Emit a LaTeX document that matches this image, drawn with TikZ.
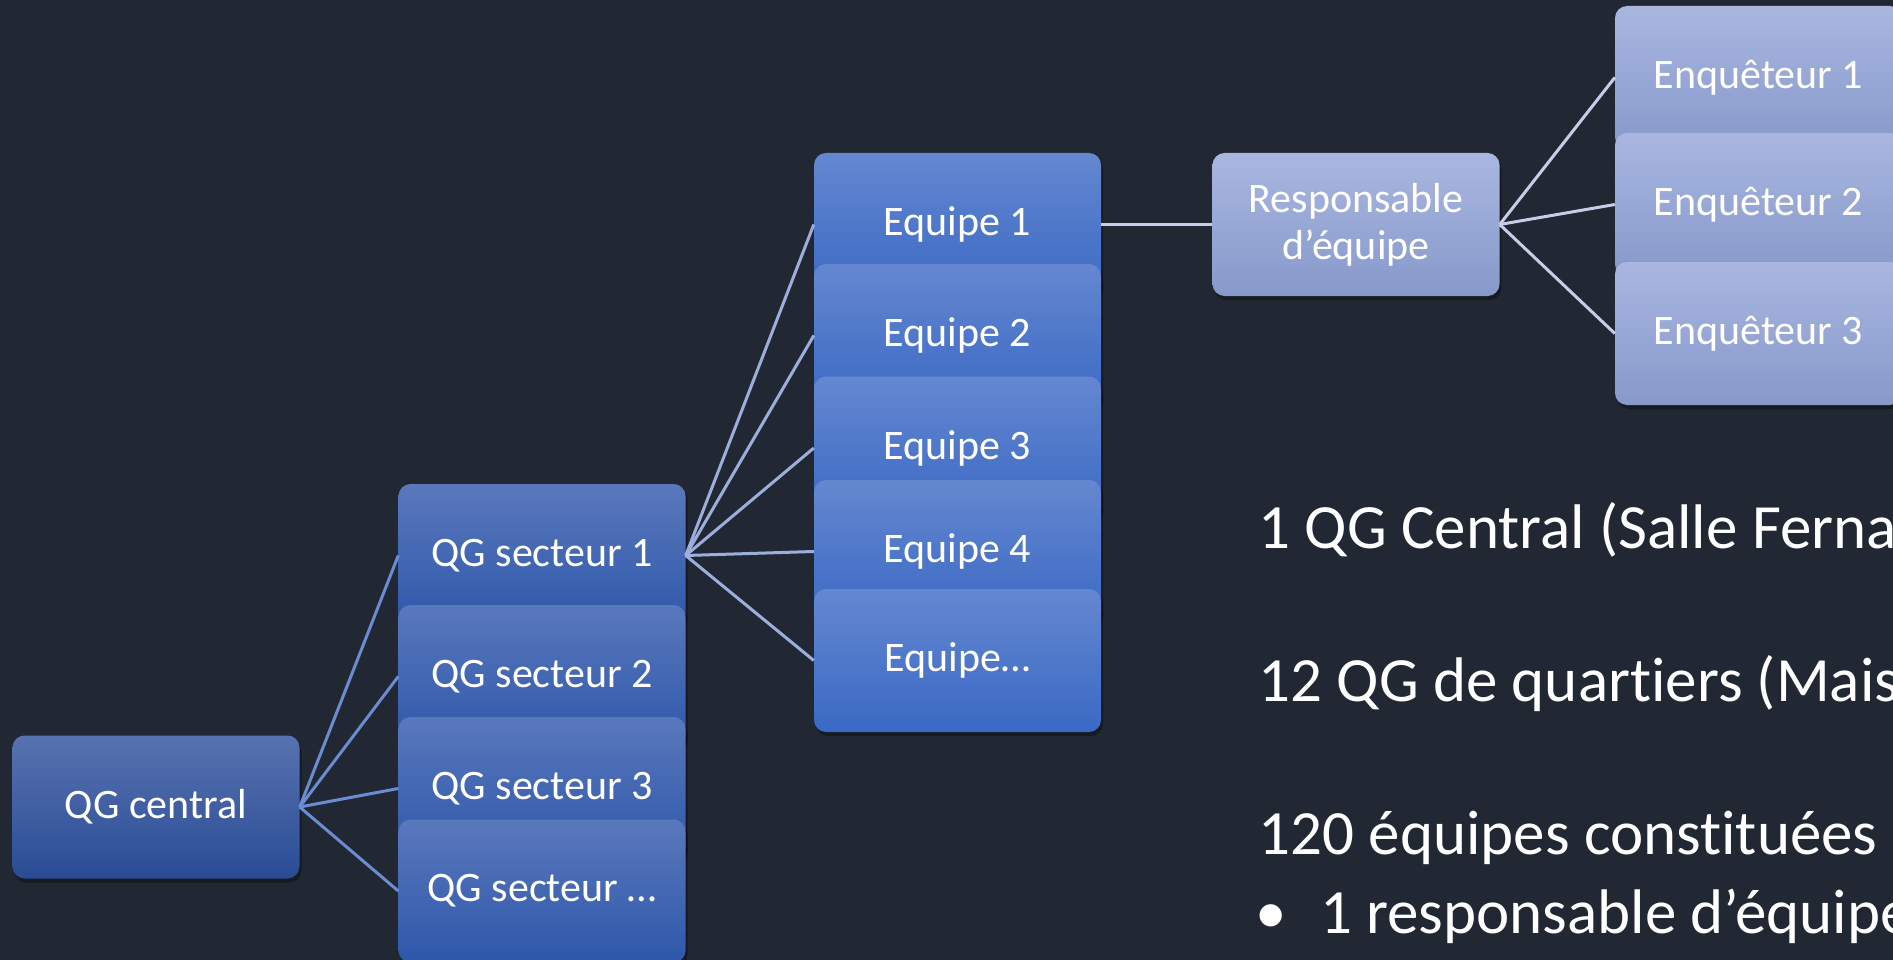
\documentclass[tikz,border=0pt]{standalone}
\usepackage{fontspec}
\setmainfont{Carlito}[Ligatures=NoCommon]
\usetikzlibrary{shadows}

\definecolor{slidebg}{HTML}{222833}
\definecolor{qgtop}{HTML}{5772B0}
\definecolor{qgbot}{HTML}{2A4C95}
\definecolor{sectop}{HTML}{5A78BC}
\definecolor{secbot}{HTML}{2E57AA}
\definecolor{eqtop}{HTML}{6587D0}
\definecolor{eqbot}{HTML}{3A69C4}
\definecolor{lttop}{HTML}{A9B7E0}
\definecolor{ltbot}{HTML}{8798CA}
\definecolor{linedark}{HTML}{6B8CD2}
\definecolor{linemid}{HTML}{9DAEDC}
\definecolor{linelight}{HTML}{C6CEE7}

\begin{document}
\begin{tikzpicture}[x=1pt,y=-1pt,
	orgbox/.style={rounded corners=12pt, minimum width=287pt, minimum height=143pt, inner sep=0pt, text=white, align=center, font=\fontsize{42}{47}\selectfont, drop shadow={fill=black, opacity=0.35, shadow xshift=2pt, shadow yshift=-4pt}},
	qgbox/.style={orgbox, top color=qgtop, bottom color=qgbot},
	secbox/.style={orgbox, top color=sectop, bottom color=secbot},
	eqbox/.style={orgbox, top color=eqtop, bottom color=eqbot},
	ltbox/.style={orgbox, top color=lttop, bottom color=ltbot},
	orgline/.style={line width=3pt},
	listtext/.style={anchor=base west, inner sep=0pt, text=white, font=\fontsize{63}{75}\selectfont}]
	\useasboundingbox (0,0) rectangle (1893,960);
	\clip (0,0) rectangle (1893,960);
	\fill[slidebg] (0,0) rectangle (1893,960);
	% level 0
	\node[qgbox] (qgcentral) at (156,807) {QG central};
	% sectors
	\begin{scope}[shift={(542,1)}]
	\node[secbox] (sect1) at (0,554.5) {QG secteur 1};
	\node[secbox] (sect2) at (0,675.5) {QG secteur 2};
	\node[secbox] (sect3) at (0,787.5) {QG secteur 3};
	\node[secbox] (sect4) at (0,890) {QG secteur …};
	\end{scope}
	% teams
	\begin{scope}[shift={(957.5,1)}]
	\node[eqbox] (eq1) at (0,223.5) {Equipe 1};
	\node[eqbox] (eq2) at (0,334.5) {Equipe 2};
	\node[eqbox] (eq3) at (0,447) {Equipe 3};
	\node[eqbox] (eq4) at (0,550.5) {Equipe 4};
	\node[eqbox] (eq5) at (0,659.5) {Equipe…};
	\end{scope}
	\node[ltbox] (resp) at (1356,224.5) {Responsable\\d’équipe};
	\begin{scope}[shift={(1758.5,1)}]
	\node[ltbox] (enq1) at (0,76.5) {Enquêteur 1};
	\node[ltbox] (enq2) at (0,203.5) {Enquêteur 2};
	\node[ltbox] (enq3) at (0,332.5) {Enquêteur 3};
	\end{scope}
	% connectors
	\path[orgline, draw=linedark]
	(qgcentral.east) edge (sect1.west)
	(qgcentral.east) edge (sect2.west)
	(qgcentral.east) edge (sect3.west)
	(qgcentral.east) edge (sect4.west);
	\path[orgline, draw=linemid]
	(sect1.east) edge (eq1.west)
	(sect1.east) edge (eq2.west)
	(sect1.east) edge (eq3.west)
	(sect1.east) edge (eq4.west)
	(sect1.east) edge (eq5.west);
	\path[orgline, draw=linelight]
	(eq1.east) edge (resp.west)
	(resp.east) edge (enq1.west)
	(resp.east) edge (enq2.west)
	(resp.east) edge (enq3.west);
	% text on the right
	\node[listtext] (line1) at (1258.5,548) {1 QG Central (Salle Ferna};
	\node[listtext] (line2) at (1258.5,701) {12 QG de quartiers (Mais};
	\node[listtext] (line3) at (1258.5,854) {120 équipes constituées};
	\node[listtext] (bullet) at (1255,933) {•};
	\node[listtext] (line4) at (1320,933) {1 responsable d’équipe};
\end{tikzpicture}
\end{document}
